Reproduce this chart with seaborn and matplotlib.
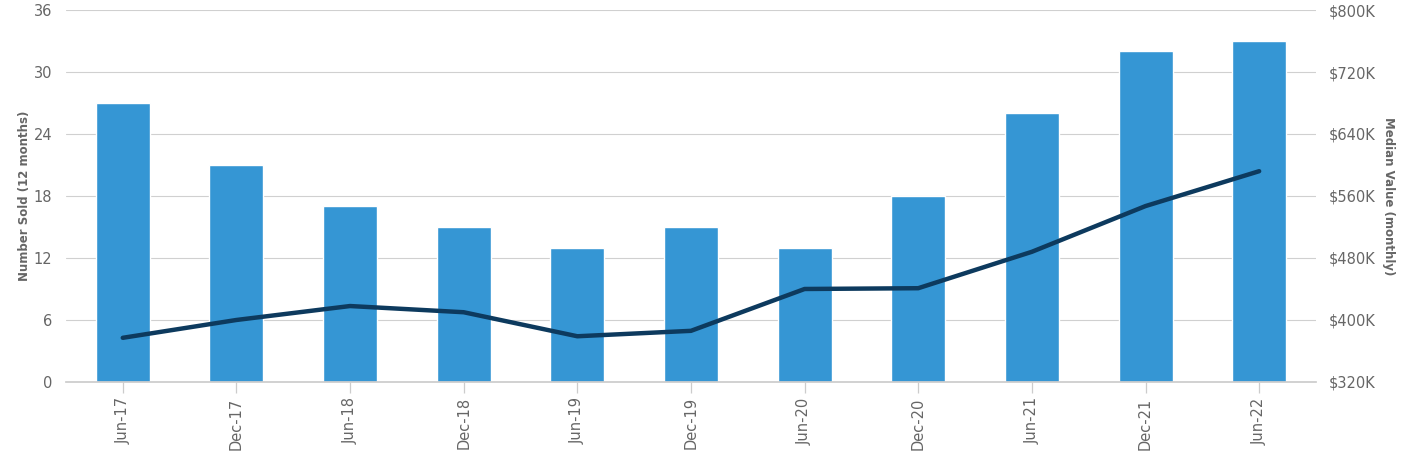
import matplotlib
matplotlib.use("Agg")
import matplotlib.pyplot as plt
import seaborn as sns
import pandas as pd
from matplotlib.ticker import FuncFormatter

periods = ["Jun-17", "Dec-17", "Jun-18", "Dec-18", "Jun-19", "Dec-19",
           "Jun-20", "Dec-20", "Jun-21", "Dec-21", "Jun-22"]
number_sold = [27, 21, 17, 15, 13, 15, 13, 18, 26, 32, 33]
median_value_k = [377, 400, 418, 410, 379, 386, 440, 441, 488, 547, 592]

left_ticks = [0, 6, 12, 18, 24, 30, 36]
right_ticks = [320, 400, 480, 560, 640, 720, 800]

sns.set_theme(style="white")
plt.rcParams['font.family'] = ['DejaVu Sans']

df = pd.DataFrame({"period": periods, "sold": number_sold, "value": median_value_k})

fig = plt.figure(figsize=(14.12, 4.59), dpi=100)
ax = fig.add_axes([0.0467, 0.1678, 0.8853, 0.8104])

sns.barplot(data=df, x="period", y="sold", color="#3596D4", saturation=1,
            width=0.475, ax=ax, zorder=2)
ax.set_xlim(-0.5, len(periods) - 0.5)
ax.set_ylim(0, 36)
ax.set_yticks(left_ticks)
ax.grid(axis="y", color="#d0d0d0", linewidth=0.8, zorder=0)
ax.set_axisbelow(True)
for s in ["top", "right", "left"]:
    ax.spines[s].set_visible(False)
ax.spines["bottom"].set_color("#cccccc")
ax.tick_params(axis="y", length=0, pad=10, labelsize=10.5, labelcolor="#666666")
ax.tick_params(axis="x", length=8, width=0.9, color="#cccccc", pad=3,
               labelsize=10.5, labelcolor="#666666", bottom=True)
for lbl in ax.get_xticklabels():
    lbl.set_rotation(90)
ax.set_xlabel("")
ax.set_ylabel("Number Sold (12 months)", fontsize=8.5, fontweight="bold",
              color="#666666", labelpad=2)

ax2 = ax.twinx()
sns.lineplot(data=df, x="period", y="value", color="#0D3A5E", linewidth=3.2,
             ax=ax2, sort=False, zorder=3, solid_capstyle="round",
             solid_joinstyle="round")
ax2.set_ylim(320, 800)
ax2.set_yticks(right_ticks)
ax2.yaxis.set_major_formatter(FuncFormatter(lambda v, p: f"${int(v)}K"))
for s in ["top", "right", "left", "bottom"]:
    ax2.spines[s].set_visible(False)
ax2.tick_params(axis="y", length=0, pad=9, labelsize=10.5, labelcolor="#666666")
ax2.set_ylabel("Median Value (monthly)", fontsize=8.5, fontweight="bold",
               color="#666666", rotation=270, labelpad=14)
ax2.set_xlim(-0.5, len(periods) - 0.5)
ax2.grid(False)

fig.savefig("out.png", dpi=100)
